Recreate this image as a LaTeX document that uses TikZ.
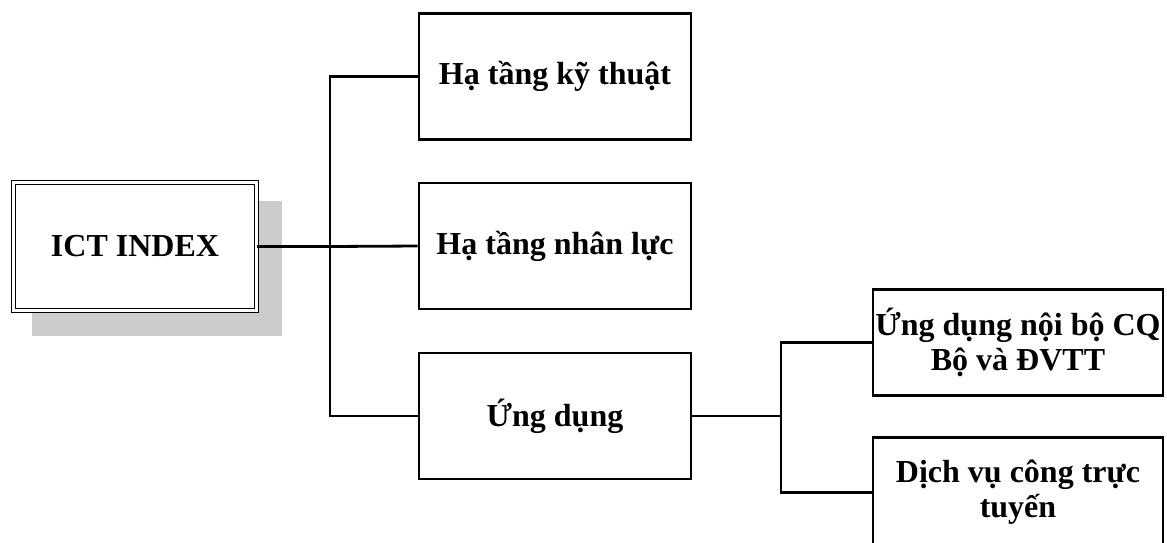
\documentclass[tikz,border=0pt]{standalone}
\usepackage{fontspec}
\setmainfont{Liberation Serif}
\begin{document}
\begin{tikzpicture}[x=1pt,y=-1pt,
  every node/.style={font=\bfseries\fontsize{32}{35}\selectfont, align=center, inner sep=0pt},
  box/.style={draw=black, line width=2.8pt, rectangle},
  rootbox/.style={draw=black, line width=1.6pt, double, double distance=2.5pt, fill=white,
    minimum width=243pt, minimum height=128pt},
  branchbox/.style={box, minimum width=272pt, minimum height=126pt},
  leafbox/.style={box, minimum width=290pt, minimum height=106pt},
  link/.style={draw=black, line width=2.8pt},
]
\useasboundingbox (0,0) rectangle (1167,542);

% root with drop shadow
\fill[gray!40] (32,201) rectangle (282,336);
\node[rootbox] (root) at (135,246.5) {ICT INDEX};

% first level
\node[branchbox] (tech) at (555,76.5) {Hạ tầng kỹ thuật};
\node[branchbox] (hr)   at (555,246) {Hạ tầng nhân lực};
\node[branchbox] (app)  at (555,416) {Ứng dụng};

% second level
\node[leafbox] (internal) at (1018,342.5) {Ứng dụng nội bộ CQ\\Bộ và ĐVTT};
\node[leafbox, minimum height=110pt] (online) at (1018,492.5) {Dịch vụ công trực\\tuyến};

% connectors
\coordinate (trunk) at (330,246.5);
\draw[link, line width=3.4pt] (root.east) -- (trunk);
\draw[link] (trunk) -- (hr.west);
\draw[link, line cap=rect] (tech.west) -| (trunk) |- (app.west);

\coordinate (fork) at (781,416);
\draw[link] (app.east) -- (fork);
\draw[link, line cap=rect] (internal.west) -| (fork) |- (online.west);
\end{tikzpicture}
\end{document}
